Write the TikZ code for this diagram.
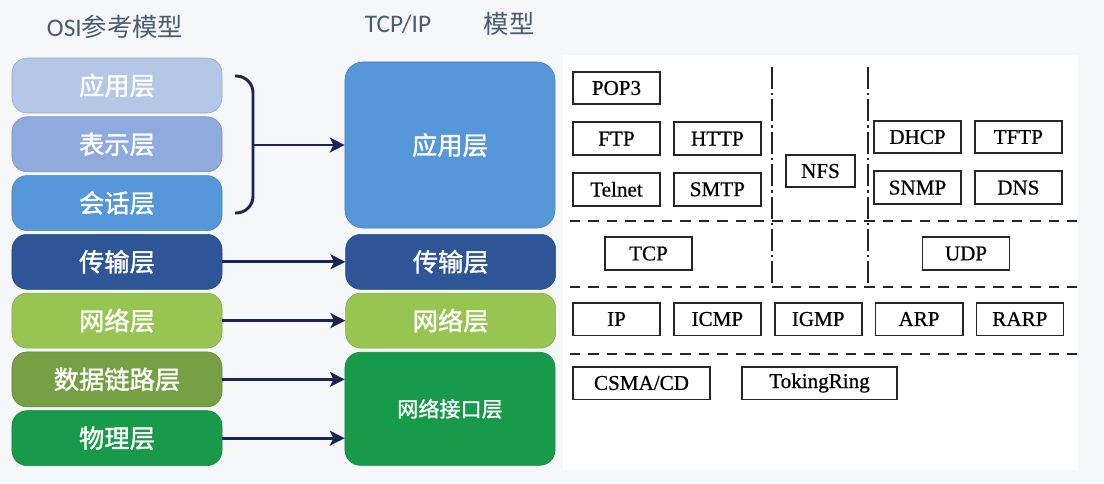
\documentclass[tikz,border=0pt]{standalone}
\usepackage{fontspec}
\usepackage{xcolor}
\setmainfont{Liberation Serif}[FakeBold=0.6]
\newfontfamily\cjkfont{Noto Sans CJK SC}[FakeBold=1.4]
\newfontfamily\cjkplain{Noto Sans CJK SC}
\newfontfamily\titlefont{Carlito}
\usetikzlibrary{calc,positioning,arrows.meta,decorations.pathreplacing}
\definecolor{osiA}{HTML}{B4C7E7}
\definecolor{osiB}{HTML}{8FAADC}
\definecolor{osiC}{HTML}{5597D8}
\definecolor{osiD}{HTML}{2E5597}
\definecolor{osiE}{HTML}{98C552}
\definecolor{osiF}{HTML}{77A045}
\definecolor{osiG}{HTML}{189A4B}
\definecolor{navy}{HTML}{1C2456}
\definecolor{titlegray}{HTML}{4A5A72}
\definecolor{backgray}{HTML}{F6F7F9}
\tikzset{
>={Stealth[length=10.5pt,width=10.5pt,inset=2.5pt]},
  layer/.style={
    rectangle,
    rounded corners=0.38cm,
    fill=#1, draw=#1!85!black, thin,
    text=white,
    minimum width=5.25cm,
    minimum height=1.375cm,
    inner sep=0pt,
    font=\cjkfont\fontsize{18}{18}\selectfont},
  proto/.style={
    rectangle,
    draw=black!85, line width=1.3pt,
    minimum width=2.175cm,
    minimum height=0.82cm,
    inner sep=0pt,
    font=\fontsize{15}{15}\selectfont},
  heading/.style={text=titlegray, font=\titlefont\fontsize{18}{18}\selectfont},
  myarrow/.style={draw=navy, line width=2.1pt, ->},
}

\begin{document}
\begin{tikzpicture}[x=0.025cm, y=-0.025cm, node distance=0.08cm]
      \tikzset{
          hsep/.style={draw=black!85, line width=1.6pt, dash pattern=on 0.26cm off 0.2cm},
          vsep/.style={draw=black!85, line width=1.3pt, dash pattern=on 0.55cm off 0.1cm on 0.06cm off 0.1cm},
          bracket/.style={draw=navy, line width=2.1pt, rounded corners=0.42cm},
      }
      \useasboundingbox (0,0) rectangle (1104,483);
      \fill[backgray] (0,0) rectangle (1104,483);
      \fill[white] (563,55) rectangle (1078,470);

      % titles
      \node[heading] (OsiTitle) at (115,27) {OSI{\cjkplain 参考模型}};
      \node[heading] (TcpTitle) at (398,24) {TCP/IP};
      \node[heading, font=\cjkplain\fontsize{18}{18}\selectfont] (ModelTitle) at (509,24) {模型};

      % OSI stack
      \node[layer=osiA] (osi1) at (117,85.5) {应用层};
      \node[layer=osiB, below=of osi1] (osi2) {表示层};
      \node[layer=osiC, below=of osi2] (osi3) {会话层};
      \node[layer=osiD, below=of osi3] (osi4) {传输层};
      \node[layer=osiE, below=of osi4] (osi5) {网络层};
      \node[layer=osiF, below=of osi5] (osi6) {数据链路层};
      \node[layer=osiG, below=of osi6] (osi7) {物理层};

      % TCP/IP stack
      \node[layer=osiC, minimum height=4.15cm, rounded corners=0.45cm] (tcp1) at (450,145) {应用层};
      \node[layer=osiD, right=3.075cm of osi4] (tcp2) {传输层};
      \node[layer=osiE, right=3.075cm of osi5] (tcp3) {网络层};
      \node[layer=osiG, minimum height=2.825cm, font=\cjkfont\fontsize{15}{15}\selectfont] (tcp4)
          at ($(osi6.south)!0.5!(osi7.north)+(333,0)$) {网络接口层};

      \coordinate (BraceTip) at (253,145);
      \draw[bracket] (235,76) -| (BraceTip) |- (235,213);

      \path[myarrow] (BraceTip) -- (BraceTip -| tcp1.west);
      \path[myarrow] (osi4.east) -- (tcp2.west);
      \path[myarrow] (osi5.east) -- (tcp3.west);
      \path[myarrow] (osi6.east) -- (osi6.east -| tcp4.west);
      \path[myarrow] (osi7.east) -- (osi7.east -| tcp4.west);

      % protocols
      \node[proto] (pop3) at (616.5,88) {POP3};
      \node[proto, below=0.4cm of pop3] (ftp) {FTP};
      \node[proto, right=0.3cm of ftp] (http) {HTTP};
      \node[proto, below=0.4cm of ftp] (telnet) {Telnet};
      \node[proto, right=0.3cm of telnet] (smtp) {SMTP};
      \node[proto, minimum width=1.725cm] (nfs) at (820.5,171) {NFS};
      \node[proto] (dhcp) at (917.5,137) {DHCP};
      \node[proto, right=0.3cm of dhcp] (tftp) {TFTP};
      \node[proto, below=0.4cm of dhcp] (snmp) {SNMP};
      \node[proto, right=0.3cm of snmp] (dns) {DNS};
      \node[proto] (tcp) at (648.5,253.5) {TCP};
      \node[proto] (udp) at (966,253.5) {UDP};
      \node[proto] (ip) at (616.5,319) {IP};
      \node[proto, right=0.3cm of ip] (icmp) {ICMP};
      \node[proto, right=0.3cm of icmp] (igmp) {IGMP};
      \node[proto, right=0.3cm of igmp] (arp) {ARP};
      \node[proto, right=0.3cm of arp] (rarp) {RARP};
      \node[proto, minimum width=3.425cm] (csma) at (641.5,383) {CSMA/CD};
      \node[proto, minimum width=3.875cm] (token) at (819.5,383) {TokingRing};

      \path[hsep] (570,221) -- (1080,221);
      \path[hsep] (570,287) -- (1080,287);
      \path[hsep] (570,354) -- (1080,354);
      \path[vsep] (772,67) -- (772,287);
      \path[vsep] (868,67) -- (868,287);

      \end{tikzpicture}
\end{document}
